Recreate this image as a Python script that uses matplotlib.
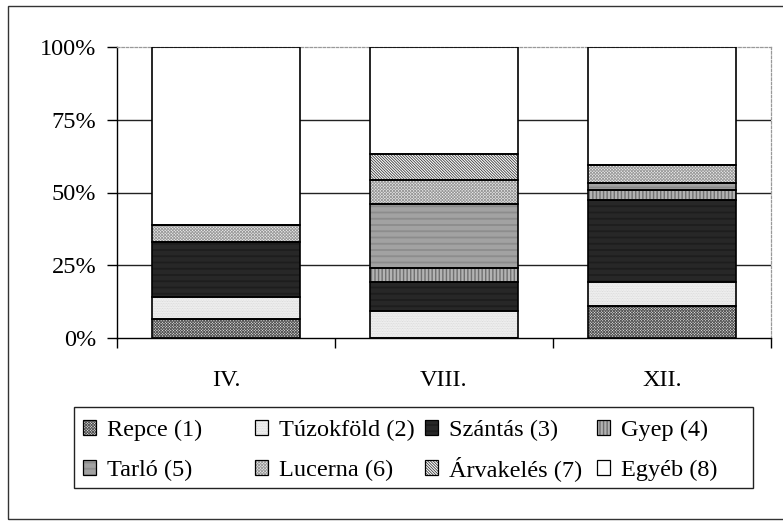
import matplotlib
matplotlib.use("Agg")
import matplotlib.pyplot as plt
from matplotlib.patches import Patch, Rectangle
import numpy as np

plt.rcParams.update({
    "font.family": ["Liberation Serif", "DejaVu Serif"],
    "hatch.linewidth": 0.6,
})

# data (percent of area)
categories = ["IV.", "VIII.", "XII."]
repce = [6.5, 0.0, 11.0]
tuzokfold = [7.5, 9.4, 8.3]
szantas = [19.0, 9.9, 28.0]
gyep = [0.0, 4.8, 3.5]
tarlo = [0.0, 21.8, 2.6]
lucerna = [6.0, 8.4, 6.2]
arvakeles = [0.0, 9.1, 0.0]
egyeb = [61.0, 36.6, 40.4]

series_names = ["Repce (1)", "Túzokföld (2)", "Szántás (3)", "Gyep (4)",
                "Tarló (5)", "Lucerna (6)", "Árvakelés (7)", "Egyéb (8)"]
series_values = [repce, tuzokfold, szantas, gyep, tarlo, lucerna, arvakeles, egyeb]
y_ticks = [0, 25, 50, 75, 100]

# (facecolor, hatch, hatch colour)
STYLES = [
    ("#e8e8e8", "x" * 12, "#555555"),
    ("#f4f4f4", "." * 10, "#d4d4d4"),
    ("#4a4a4a", "-" * 14, "#151515"),
    ("white", "|" * 12, "#555555"),
    ("#ececec", "-" * 14, "#7a7a7a"),
    ("#eeeeee", "x" * 11, "#9a9a9a"),
    ("white", "\\" * 12, "#3a3a3a"),
    ("white", "", "black"),
]
FS = 17.5

fig = plt.figure(figsize=(7.83, 5.21), dpi=100)
ax = fig.add_axes([117 / 783, 1 - 338 / 521, (771 - 117) / 783, (338 - 47) / 521])

x = np.arange(len(categories))
width = 0.675
bottom = np.zeros(len(categories))
handles = []
for name, vals, (fc, hatch, hc) in zip(series_names, series_values, STYLES):
    vals = np.array(vals, dtype=float)
    ax.bar(x, vals, width, bottom=bottom, color=fc, hatch=hatch,
           edgecolor=hc, linewidth=0, zorder=2)
    ax.bar(x, vals, width, bottom=bottom, fill=False,
           edgecolor="black", linewidth=1.2, zorder=3)
    bottom += vals
    handles.append((Patch(facecolor=fc, hatch=hatch, edgecolor=hc, linewidth=0),
                    Patch(fill=False, edgecolor="black", linewidth=0.9)))

ax.set_xlim(-0.5, len(categories) - 0.5)
ax.set_ylim(0, 100)
ax.set_yticks(y_ticks)
ax.set_yticklabels([f"{v}%" for v in y_ticks], fontsize=FS)
ax.set_xticks(x)
ax.set_xticklabels(categories, fontsize=FS)
ax.set_xticks(np.arange(len(categories) + 1) - 0.5, minor=True)
ax.tick_params(axis="x", which="major", length=0, pad=23)
ax.tick_params(axis="x", which="minor", length=7, width=1.0, direction="out")
ax.tick_params(axis="y", length=7, width=1.0, direction="out", pad=8)

for yv in y_ticks[1:-1]:
    ax.axhline(yv, color="#222222", lw=1.0, zorder=1)
for side in ("top", "right"):
    ax.spines[side].set_color("#999999")
    ax.spines[side].set_linestyle((0, (2, 1.5)))
    ax.spines[side].set_linewidth(0.9)
for side in ("left", "bottom"):
    ax.spines[side].set_linewidth(1.0)

# legend: one small legend per entry so rows share a baseline, inside one frame
col_x = [83, 255, 425, 597]
row_y = [441, 481]
for i, name in enumerate(series_names):
    cx = col_x[i % 4]
    ry = row_y[i // 4]
    fig.legend([handles[i]], [name],
               loc="lower left", bbox_to_anchor=(cx / 783, 1 - ry / 521),
               frameon=False, fontsize=FS, handlelength=0.55, handleheight=0.55,
               handletextpad=0.45, borderpad=0, borderaxespad=0)

fig.patches.append(Rectangle((74 / 783, 1 - 488 / 521), (753 - 74) / 783, (488 - 407) / 521,
                             transform=fig.transFigure, fill=False,
                             edgecolor="#222222", linewidth=1.0))
fig.patches.append(Rectangle((8 / 783, 1 - 519 / 521), 1.1, (519 - 6) / 521,
                             transform=fig.transFigure, fill=False,
                             edgecolor="#333333", linewidth=1.0, clip_on=False))

fig.savefig("out.png", dpi=100)
